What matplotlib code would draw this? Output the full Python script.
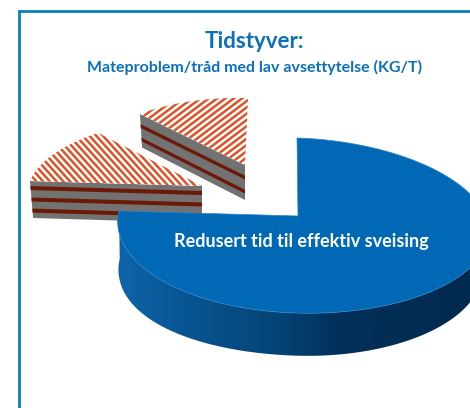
import numpy as np
import matplotlib
matplotlib.use("Agg")
import matplotlib.pyplot as plt
from matplotlib.colors import LinearSegmentedColormap
from matplotlib.patches import Polygon

# shares of the pie, clockwise from 12 o'clock
labels = ["Redusert tid til effektiv sveising", "", ""]
shares = [75, 12.5, 12.5]

title = "Tidstyver:"
subtitle = "Mateproblem/tråd med lav avsettytelse (KG/T)"

BLUE = "#0068b5"
ORANGE = "#de5228"
GREY = "#727272"
DARK = "#6b1a08"
FRAME = "#0a80b8"

plt.rcParams["font.family"] = ["Lato", "DejaVu Sans"]

fig = plt.figure(figsize=(4.7, 4.08), dpi=100)
ax = fig.add_axes([0, 0, 1, 1])


def project(theta, r, z, p):
    # theta in degrees clockwise from 12 o'clock, z goes 0 (top) to 1 (bottom)
    x = r * np.sin(np.radians(theta))
    y = r * np.cos(np.radians(theta))
    w = 1 + p["k"] * y
    wx = 1 + p["kx"] * y
    taper = np.where(x > 0, p["taper_r"], p["taper_l"])
    drop = p["depth"] * (1 + np.where(x < 0, p["sag"] * x * x, 0))
    sx = p["cx"] + p["rx"] * x / wx * (1 - taper * z) + p["skew"] * y + p["bulge"] * x * x
    sy = p["cy"] - p["ry"] * y / w + p["tilt"] * x + drop * z / w
    return sx, sy


def arc(t0, t1, z, p):
    t = np.linspace(t0, t1, 120)
    return np.column_stack(project(t, 1.0, z, p))


def sector(t0, t1, p):
    centre = np.array(project(0, 0, 0, p))
    return np.vstack([centre, arc(t0, t1, 0, p)])


def face(theta, z0, z1, p):
    a0 = project(0, 0, z0, p)
    b0 = project(theta, 1, z0, p)
    b1 = project(theta, 1, z1, p)
    a1 = project(0, 0, z1, p)
    return np.array([a0, b0, b1, a1])


def striped_top(t0, t1, p, angle, period, zorder):
    poly = Polygon(sector(t0, t1, p), closed=True, fc="white", ec="none", zorder=zorder)
    ax.add_patch(poly)
    a = np.radians(angle)
    d = np.array([np.cos(a), np.sin(a)])
    n = np.array([-d[1], d[0]])
    for off in np.arange(-400, 400, period):
        c = np.array([p["cx"], p["cy"]]) + n * off
        line, = ax.plot([c[0] - d[0] * 400, c[0] + d[0] * 400],
                        [c[1] - d[1] * 400, c[1] + d[1] * 400],
                        color=ORANGE, lw=1.8, zorder=zorder + 0.1, solid_capstyle="butt")
        line.set_clip_path(poly)


def side_face(theta, p, bands, zorder):
    ax.fill(*face(theta, 0, 1, p).T, color=GREY, lw=0, zorder=zorder)
    for b in bands:
        ax.fill(*face(theta, b - 0.055, b + 0.055, p).T, color=DARK, lw=0, zorder=zorder + 0.1)


main = dict(cx=298, cy=216, rx=184, ry=86.5, k=0.109, kx=0.12, tilt=5, depth=38,
            taper_l=0.004, taper_r=0.03, sag=0.25, skew=-1, bulge=5)
piece_a = dict(cx=245, cy=165, rx=158, ry=71, k=0.06, kx=0.06, tilt=4, depth=35,
               taper_l=0.02, taper_r=0.02, sag=0, skew=3, bulge=0)
piece_b = dict(cx=202, cy=186, rx=172, ry=75.5, k=0.11, kx=0.11, tilt=5, depth=37,
               taper_l=0.018, taper_r=0.018, sag=0, skew=12.7, bulge=0)

edges = np.cumsum([0] + shares) / sum(shares) * 360

# two loose pieces, the second one in front of the first
side_face(edges[2], piece_a, [0.36, 0.76], 1)
striped_top(edges[2], edges[3], piece_a, -37, 5.0, 2)

side_face(edges[1], piece_b, [0.19, 0.5, 0.8], 3)
striped_top(edges[1], edges[2], piece_b, 48, 5.0, 4)

# big blue slice with shaded wall
wall = np.vstack([arc(90, edges[1], 0, main), arc(edges[1], 90, 1, main)])
wall_patch = Polygon(wall, closed=True, fc="none", ec="none", zorder=5)
ax.add_patch(wall_patch)
cmap = LinearSegmentedColormap.from_list(
    "wall", [(0.0, "#1068ae"), (0.26, "#07528f"), (0.47, "#044475"),
             (0.63, "#02305a"), (1.0, "#02294e")])
img = ax.imshow(np.linspace(0, 1, 256).reshape(1, -1), cmap=cmap, aspect="auto",
                extent=(100, 480, 400, 120), zorder=5)
img.set_clip_path(wall_patch)
ax.add_patch(Polygon(sector(edges[0], edges[1], main), closed=True, fc=BLUE,
                     ec="#2f84c6", lw=0.5, zorder=6))

ax.text(301, 242, labels[0], color="white", fontsize=13, fontweight="bold",
        ha="center", va="center", zorder=7)

ax.text(254, 41, title, color="#0b6fbb", fontsize=16, fontweight="bold",
        ha="center", va="center", zorder=7)
ax.text(255, 67, subtitle, color="#0b6fbb", fontsize=11.5, fontweight="bold",
        ha="center", va="center", zorder=7)

# frame open on the right and at the bottom
ax.plot([19, 19, 470], [408, 11, 11], color=FRAME, lw=2.0, zorder=8,
        solid_joinstyle="miter")

ax.set_xlim(0, 470)
ax.set_ylim(408, 0)
ax.axis("off")

fig.savefig("out.png", dpi=100, facecolor="white")
